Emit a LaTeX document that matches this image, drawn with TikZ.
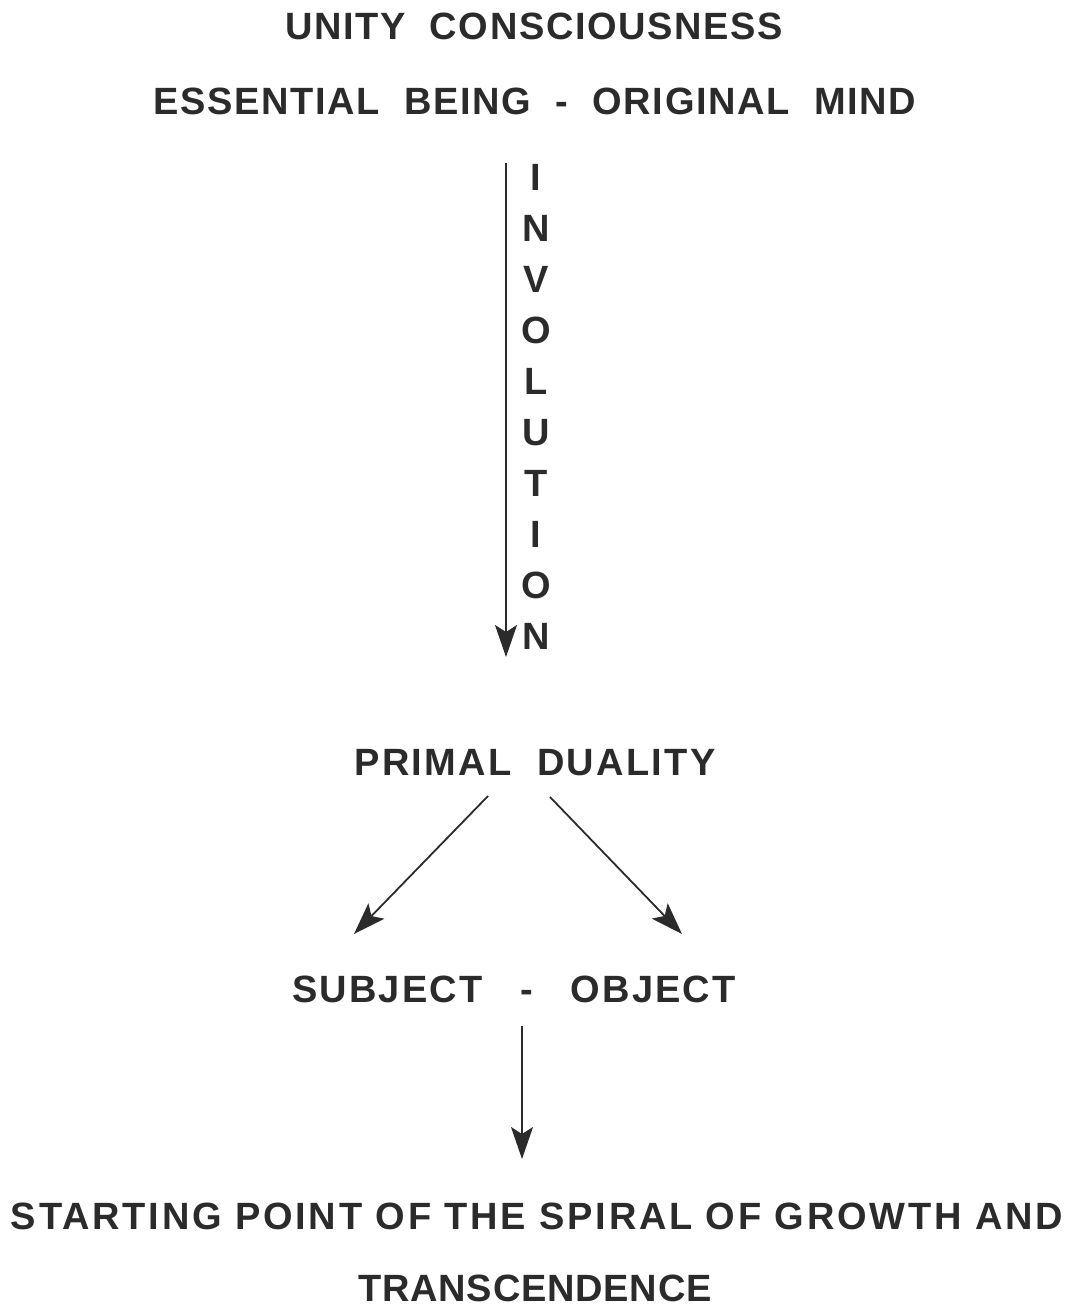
\documentclass[tikz,border=0pt]{standalone}
\usepackage{fontspec}
\setmainfont{Liberation Sans}
\usetikzlibrary{arrows.meta}
\definecolor{ink}{HTML}{2B2B2B}
\tikzset{
  lbl/.style={text=ink, inner sep=0pt, font=\fontsize{38}{51}\selectfont\bfseries\addfontfeature{LetterSpace=#1}},
  lbl/.default=4,
  conn/.style={draw=ink, line width=1.8pt, -{Stealth[length=32pt, width=22pt, inset=7pt]}},
}
\begin{document}
\begin{tikzpicture}[x=1pt, y=-1pt]
\useasboundingbox (0,0) rectangle (1071,1308);
\node[lbl=4.2] (unity) at (534,26) {UNITY\ \ CONSCIOUSNESS};
\node[lbl=4.3] (essential) at (535,101) {ESSENTIAL\ \ BEING\ \ -\ \ ORIGINAL\ \ MIND};
\node[lbl=4, align=center] (involution) at (536,407) {I\\N\\V\\O\\L\\U\\T\\I\\O\\N};
\node[lbl=6] (primal) at (535,763) {PRIMAL\ \ DUALITY};
\node[lbl=5.5] (subjobj) at (514,989) {SUBJECT\ \ \ -\ \ \ OBJECT};
\node[lbl=7.3] (start) at (537,1216) {STARTING POINT OF THE SPIRAL OF GROWTH AND};
\node[lbl=2] (trans) at (535,1288) {TRANSCENDENCE};
\coordinate (a1) at (506,163);
\coordinate (a2) at (506,657);
\coordinate (l1) at (488,796);
\coordinate (l2) at (354,934);
\coordinate (r1) at (550,797);
\coordinate (r2) at (682,934);
\coordinate (b1) at (522,1026);
\coordinate (b2) at (522,1159);
\draw[conn] (a1) -- (a2);
\draw[conn] (l1) -- (l2);
\draw[conn] (r1) -- (r2);
\draw[conn] (b1) -- (b2);
\end{tikzpicture}
\end{document}
